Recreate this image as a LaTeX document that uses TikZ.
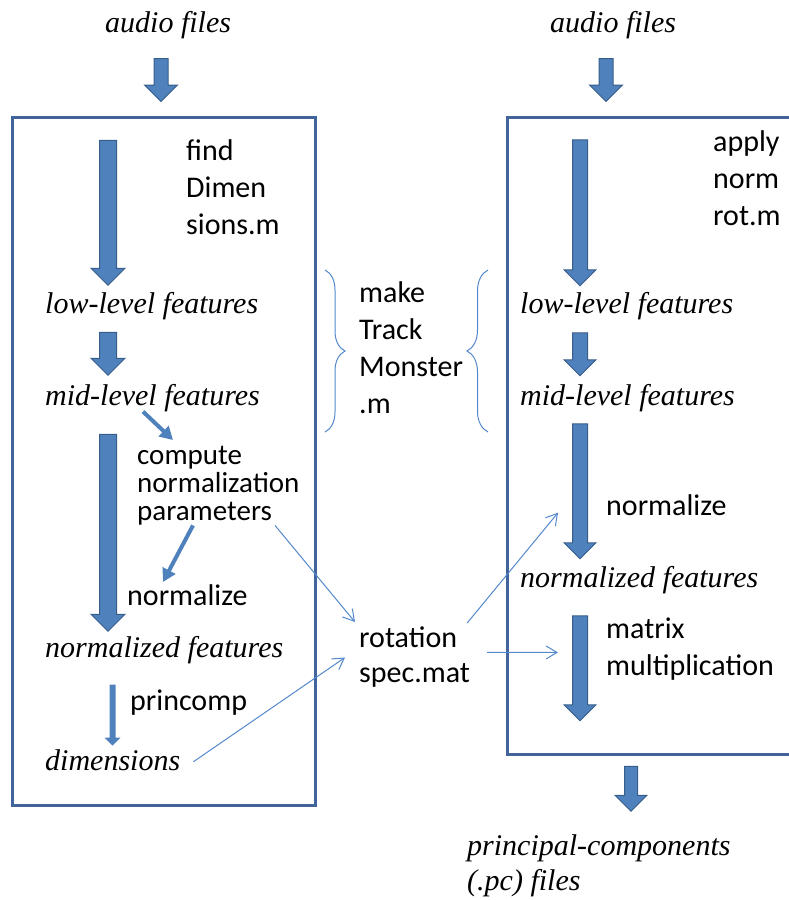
\documentclass[tikz,border=0pt]{standalone}
\usepackage{fontspec}
\setmainfont{Liberation Serif}
\setsansfont{Carlito}
\usetikzlibrary{arrows.meta,positioning,shapes.arrows,decorations.pathreplacing}
\definecolor{boxblue}{RGB}{64,100,155}
\definecolor{fillblue}{RGB}{79,129,189}
\definecolor{edgeblue}{RGB}{56,93,138}
\definecolor{lineblue}{RGB}{84,136,204}

\tikzset{
  data/.style={font=\itshape\fontsize{30}{35}\selectfont,inner sep=0pt,anchor=base west},
  tool/.style={font=\sffamily\fontsize{30}{37}\selectfont,align=left,inner sep=0pt,anchor=north west},
  word/.style={font=\sffamily\fontsize{30}{37}\selectfont,inner sep=0pt,anchor=base west},
  blk/.style={single arrow,rotate=-90,fill=fillblue,draw=edgeblue,line width=1pt,
    inner xsep=0pt,inner ysep=8pt,single arrow head extend=8.5pt},
  push/.style={draw=fillblue,line width=4pt,-{Triangle[length=13pt,width=14pt]}},
  feed/.style={draw=lineblue,line width=1pt,-{Straight Barb[length=11pt,width=13pt]}},
  panel/.style={draw=boxblue,line width=3pt},
  bracket/.style={draw=lineblue,line width=1pt,decorate},
}

\begin{document}
\begin{tikzpicture}[x=1pt,y=-1pt]
    \useasboundingbox (0,0) rectangle (788,900);
    % Boxes
    \draw[panel] (12,117) rectangle (315,805);
    \draw[panel] (507,117) rectangle (800,754);
    % Inputs and outputs
    \node[data] (srcL) at (105,32) {audio files};
    \node[data] (srcR) at (550,32) {audio files};
    \node[data,align=left,anchor=north west] (pcout) at (467,834) {principal-components\\(.pc) files};
    % Left column
    \node[data] (lowL) at (45,313) {low-level features};
    \node[data] (midL) at (45,405) {mid-level features};
    \node[data] (normfL) at (45,657) {normalized features};
    \node[data] (dimsL) at (45,770) {dimensions};
    \node[tool] (findL) at (186,139) {find\\Dimen\\sions.m};
    \node[tool,font=\sffamily\fontsize{29}{28}\selectfont] (comp) at (137,446) {compute\\normalization\\parameters};
    \node[word] (normL) at (127,605) {normalize};
    \node[word] (princ) at (130,710) {princomp};
    % Middle
    \node[tool] (makeM) at (359,281) {make\\Track\\Monster\\.m};
    \node[tool,font=\sffamily\fontsize{30}{35}\selectfont] (rot) at (359,627) {rotation\\spec.mat};
    % Right column
    \node[data] (lowR) at (520,313) {low-level features};
    \node[data] (midR) at (520,405) {mid-level features};
    \node[data] (normfR) at (520,587) {normalized features};
    \node[tool] (applyR) at (713,130) {apply\\norm\\rot.m};
    \node[word] (normR) at (606,515) {normalize};
    \node[tool] (mm) at (606,618) {matrix\\multiplication};
    % Block arrows
    \node[blk,minimum height=43pt,inner ysep=6.5pt,single arrow head extend=9.5pt] (arrSL) at (161,76.5) {};
    \node[blk,minimum height=43pt,inner ysep=6.5pt,single arrow head extend=9.5pt] (arrSR) at (606,76.5) {};
    \node[blk,minimum height=145pt] (arrL1) at (108,208.5) {};
    \node[blk,minimum height=43pt] (arrL2) at (108,349.5) {};
    \node[blk,minimum height=197pt] (arrL3) at (108,528.5) {};
    \node[blk,minimum height=61pt,inner ysep=2.5pt,single arrow head extend=5pt,draw=none] (arrPC) at (112.5,713.5) {};
    \node[blk,minimum height=146pt,inner ysep=7pt] (arrR1) at (580,209) {};
    \node[blk,minimum height=43pt,inner ysep=7pt] (arrR2) at (580,350.5) {};
    \node[blk,minimum height=135pt,inner ysep=7pt] (arrR3) at (580,487.5) {};
    \node[blk,minimum height=105pt,inner ysep=7pt] (arrR4) at (580,664.5) {};
    \node[blk,minimum height=45pt,inner ysep=6pt,single arrow head extend=9.5pt] (arrOut) at (631,785.5) {};
    % Side arrows
    \draw[push] ([xshift=98pt]midL.south west) -- ([shift={(36pt,6pt)}]comp.north west);
    \draw[push] ([xshift=56pt]comp.south west) -- ([shift={(36pt,2pt)}]normL.north west);
    % Rotation spec links
    \draw[feed] ([xshift=138pt]comp.south west) -- ([shift={(-4pt,5pt)}]rot.north west);
    \draw[feed] ([shift={(13pt,-2pt)}]dimsL.east) -- ([xshift=-14pt]rot.west);
    \draw[feed] ([shift={(-3pt,4pt)}]rot.north east) -- ([shift={(-48pt,-8pt)}]normR.west);
    \draw[feed] ([shift={(17pt,5pt)}]rot.east) -- ([shift={(-48pt,-3pt)}]mm.west);
    % Braces
    \draw[bracket,decoration={brace,amplitude=20pt}] (325,270) -- (325,432);
    \draw[bracket,decoration={brace,amplitude=21pt}] (488,432) -- (488,270);
\end{tikzpicture}
\end{document}
